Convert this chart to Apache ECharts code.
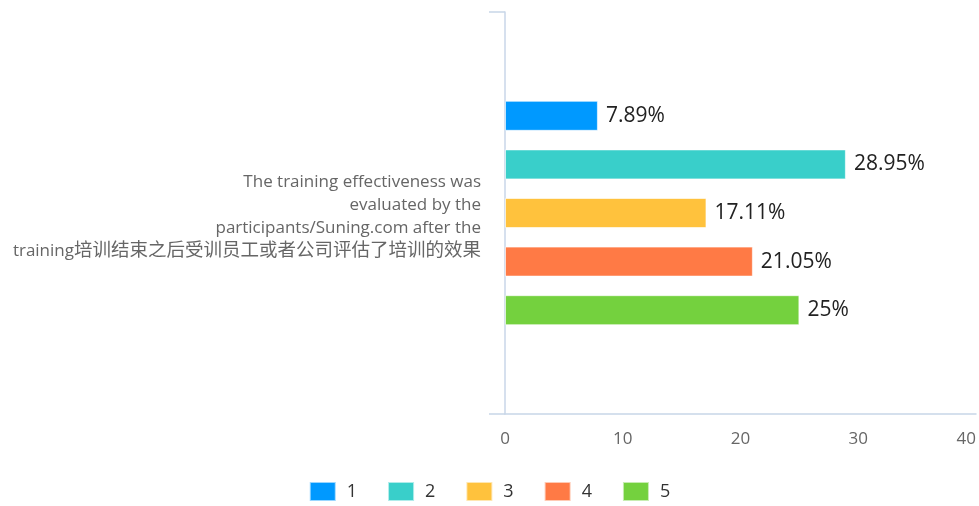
<!DOCTYPE html>
<html>
<head>
<meta charset="utf-8">
<script src="https://cdn.jsdelivr.net/npm/echarts@6/dist/echarts.min.js"></script>
<style>
  html, body { margin: 0; padding: 0; background: #fff; overflow: hidden; }
  #chart { width: 979px; height: 506px; }
</style>
</head>
<body>
<div id="chart"></div>
<script>
// Survey question (single category), wrapped onto four lines
const questionLines = [
  'The training effectiveness was',
  'evaluated by the',
  'participants/Suning.com after the',
  'training培训结束之后受训员工或者公司评估了培训的效果'
];
const categories = [questionLines.join(' ')];

// Rating options and their share of responses (%)
const seriesNames = ['1', '2', '3', '4', '5'];
const seriesValues = [7.89, 28.95, 17.11, 21.05, 25];
const seriesColors = ['#0099ff', '#39cfca', '#ffc23d', '#ff7a45', '#74d13e'];

// Value axis ticks
const xMin = 0, xMax = 40, xStep = 10;

const FONT = '"Open Sans", "Noto Sans CJK SC", sans-serif';

// Wrap runs of CJK characters in a rich-text style so they get their own size
function richLine(line) {
  return line.replace(/([\u4e00-\u9fff]+)/g, '{cjk|$1}');
}

const chart = echarts.init(document.getElementById('chart'), null, { width: 979, height: 506 });

const series = seriesNames.map((name, i) => ({
  name: name,
  type: 'bar',
  data: [seriesValues[i]],
  barWidth: 30,
  barGap: '62%',
  barCategoryGap: '44%',
  itemStyle: { color: seriesColors[i], borderColor: 'rgba(255,255,255,0.6)', borderWidth: 1 },
  label: {
    show: true,
    position: 'right',
    distance: 8,
    formatter: p => p.value + '%',
    fontSize: 21,
    color: '#222',
    fontFamily: FONT,
    padding: [3, 0, 0, 0]
  }
}));

chart.setOption({
  animation: false,
  color: seriesColors,
  textStyle: { fontFamily: FONT },
  grid: { left: 505, right: 2, top: 12, bottom: 92, containLabel: false },
  legend: {
    bottom: -1,
    left: 'center',
    itemWidth: 26,
    itemHeight: 19,
    itemGap: 30,
    icon: 'rect',
    textStyle: { fontSize: 18, color: '#333', fontFamily: FONT, padding: [0, 0, 0, 6] },
    data: seriesNames
  },
  xAxis: {
    type: 'value',
    min: xMin,
    max: xMax,
    interval: xStep,
    axisLine: { show: true, lineStyle: { color: '#c8d6e8', width: 1.5 } },
    axisTick: { show: false },
    splitLine: { show: false },
    axisLabel: {
      margin: 17,
      fontSize: 17,
      color: '#666',
      fontFamily: FONT,
      alignMaxLabel: 'right'
    }
  },
  yAxis: {
    type: 'category',
    inverse: true,
    data: categories,
    axisLine: { show: true, lineStyle: { color: '#c8d6e8', width: 1.5 } },
    axisTick: { show: true, length: 16, lineStyle: { color: '#c8d6e8', width: 1.5 } },
    axisLabel: {
      margin: 24,
      fontSize: 17,
      lineHeight: 23,
      color: '#666',
      align: 'right',
      fontFamily: FONT,
      padding: [7, 0, 0, 0],
      formatter: () => questionLines.map(richLine).join('\n'),
      rich: {
        cjk: { fontSize: 18.5, lineHeight: 23, color: '#666', fontFamily: FONT }
      }
    }
  },
  series: series
});
</script>
</body>
</html>
